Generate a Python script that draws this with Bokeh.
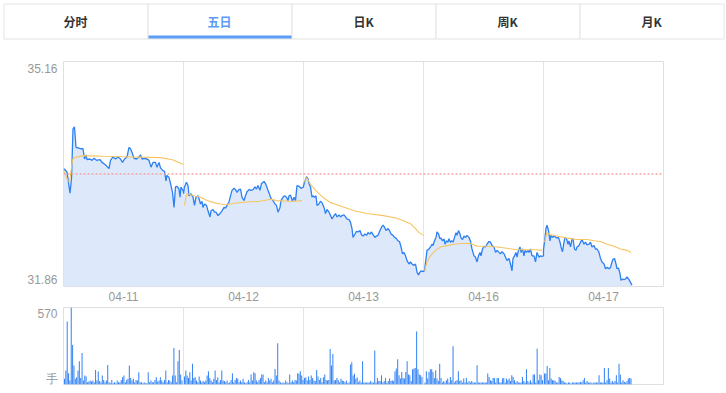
import numpy as np
from bokeh.plotting import figure
from bokeh.layouts import column
from bokeh.models import FixedTicker, Span, Range1d
from bokeh.embed import file_html
from bokeh.resources import INLINE
from bokeh.core.properties import value

# ---------------- data ----------------
tabs = ["分时", "五日", "日K", "周K", "月K"]
active_tab = 1
dates = ["04-11", "04-12", "04-13", "04-16", "04-17"]
price_max = 35.16
price_min = 31.86
prev_close = 33.51
vol_max = 570
vol_unit = "手"
day_len = 240

d1_t = [0, 2, 7, 13, 16, 19, 22, 25, 31, 35, 39, 42, 45, 47, 53, 57, 61, 66, 73, 77, 81, 86, 91, 94, 99, 104, 109, 114, 118, 122,
        127, 131, 134, 137, 141, 146, 151, 154, 157, 162, 167, 171, 175, 179, 184, 187, 191, 194, 199, 202, 205, 207, 211, 215, 218, 221,
        224, 227, 231, 233, 235, 240]
d1_p = [33.58, 33.58, 33.54, 33.23, 33.44, 34.17, 34.20, 33.90, 33.89, 33.88, 33.88, 33.73, 33.79, 33.72, 33.73, 33.71, 33.74, 33.71,
        33.72, 33.68, 33.66, 33.63, 33.59, 33.71, 33.76, 33.73, 33.76, 33.73, 33.68, 33.73, 33.76, 33.90, 33.88, 33.83, 33.74, 33.73,
        33.76, 33.79, 33.73, 33.74, 33.73, 33.71, 33.61, 33.68, 33.68, 33.61, 33.68, 33.60, 33.56, 33.55, 33.41, 33.49, 33.46, 33.34,
        33.24, 33.02, 33.32, 33.33, 33.29, 33.17, 33.32, 33.25]

d2_t = [0, 2, 6, 9, 11, 15, 19, 22, 25, 29, 31, 34, 37, 39, 42, 46, 49, 53, 55, 59, 62, 65, 69, 73, 77, 81, 84, 87, 91, 94, 97, 101,
        104, 107, 111, 114, 117, 121, 124, 127, 131, 135, 139, 143, 146, 149, 153, 156, 161, 164, 169, 173, 175, 179, 183, 186, 189,
        193, 195, 199, 202, 206, 209, 211, 214, 218, 221, 224, 227, 231, 235, 240]
d2_p = [33.22, 33.32, 33.39, 33.34, 33.19, 33.22, 33.17, 33.05, 33.17, 33.19, 33.15, 33.07, 33.11, 33.02, 33.07, 33.05, 32.97, 32.88,
        32.97, 32.99, 32.95, 32.95, 32.90, 32.93, 32.97, 33.02, 33.01, 33.05, 33.10, 33.19, 33.27, 33.30, 33.28, 33.24, 33.28, 33.29,
        33.17, 33.12, 33.19, 33.25, 33.28, 33.27, 33.28, 33.32, 33.29, 33.34, 33.27, 33.37, 33.40, 33.37, 33.27, 33.19, 33.15, 33.12,
        33.07, 33.05, 32.95, 33.02, 33.12, 33.17, 33.19, 33.17, 33.12, 33.19, 33.20, 33.11, 33.17, 33.12, 33.34, 33.33, 33.30, 33.32]

d3_t = [0, 2, 6, 9, 11, 14, 17, 19, 22, 25, 27, 31, 34, 37, 41, 44, 47, 51, 54, 57, 61, 64, 67, 71, 74, 77, 81, 84, 87, 91, 94, 97,
        99, 103, 106, 109, 113, 116, 119, 123, 126, 129, 133, 136, 139, 143, 146, 149, 153, 156, 159, 162, 165, 169, 172, 175, 179,
        182, 185, 189, 192, 195, 198, 201, 204, 207, 211, 214, 217, 221, 224, 227, 230, 233, 235, 240]
d3_p = [33.33, 33.39, 33.47, 33.44, 33.37, 33.32, 33.17, 33.19, 33.17, 33.19, 33.05, 33.07, 33.11, 33.09, 33.02, 32.93, 32.99, 32.95,
        32.90, 32.85, 32.90, 32.93, 32.88, 32.91, 32.88, 32.90, 32.91, 32.88, 32.85, 32.84, 32.80, 32.71, 32.58, 32.63, 32.67, 32.66,
        32.68, 32.62, 32.60, 32.63, 32.61, 32.65, 32.63, 32.66, 32.62, 32.58, 32.60, 32.61, 32.68, 32.73, 32.76, 32.73, 32.68, 32.71,
        32.68, 32.63, 32.61, 32.58, 32.57, 32.53, 32.52, 32.44, 32.34, 32.36, 32.31, 32.24, 32.19, 32.22, 32.19, 32.17, 32.19, 32.07,
        32.03, 32.07, 32.09, 32.08]

d4_t = [0, 2, 5, 7, 11, 14, 17, 19, 22, 25, 27, 30, 33, 35, 38, 41, 43, 46, 49, 51, 54, 57, 59, 62, 65, 67, 70, 73, 75, 78, 81, 84,
        87, 91, 94, 97, 101, 104, 107, 110, 113, 115, 118, 121, 124, 127, 131, 134, 137, 141, 144, 147, 151, 154, 157, 161, 164, 167,
        171, 174, 177, 179, 182, 185, 187, 190, 193, 195, 198, 201, 203, 206, 209, 211, 214, 217, 221, 224, 227, 231, 234, 237, 240]
d4_p = [32.08, 32.09, 32.27, 32.39, 32.41, 32.44, 32.48, 32.46, 32.53, 32.58, 32.66, 32.63, 32.56, 32.57, 32.53, 32.56, 32.48, 32.53,
        32.51, 32.56, 32.51, 32.53, 32.51, 32.58, 32.65, 32.61, 32.68, 32.63, 32.57, 32.55, 32.60, 32.58, 32.61, 32.58, 32.52, 32.41,
        32.31, 32.29, 32.22, 32.31, 32.36, 32.31, 32.41, 32.45, 32.44, 32.48, 32.52, 32.51, 32.46, 32.44, 32.36, 32.39, 32.36, 32.34,
        32.37, 32.34, 32.29, 32.24, 32.27, 32.19, 32.09, 32.27, 32.31, 32.36, 32.29, 32.39, 32.44, 32.36, 32.41, 32.31, 32.39, 32.36,
        32.39, 32.36, 32.41, 32.31, 32.31, 32.22, 32.36, 32.29, 32.31, 32.30, 32.31]

d5_t = [0, 2, 5, 7, 10, 13, 15, 18, 22, 26, 30, 33, 35, 38, 41, 43, 46, 49, 51, 54, 57, 59, 62, 65, 67, 71, 74, 77, 81, 84, 87, 91,
        94, 97, 101, 104, 107, 111, 114, 117, 121, 124, 127, 131, 134, 137, 139, 142, 145, 147, 150, 153, 155, 158, 161, 164, 167,
        171, 174, 177]
d5_p = [32.40, 32.51, 32.71, 32.76, 32.68, 32.53, 32.61, 32.58, 32.60, 32.57, 32.58, 32.51, 32.44, 32.37, 32.51, 32.58, 32.56, 32.48,
        32.53, 32.44, 32.55, 32.56, 32.41, 32.39, 32.44, 32.46, 32.51, 32.55, 32.48, 32.51, 32.47, 32.48, 32.51, 32.44, 32.46, 32.41,
        32.41, 32.36, 32.27, 32.22, 32.19, 32.12, 32.14, 32.12, 32.14, 32.22, 32.26, 32.27, 32.19, 32.12, 32.13, 32.05, 31.95, 31.97,
        31.96, 31.97, 32.00, 31.96, 31.92, 31.88]

# average price lines (per day)
a1_t = [0, 4, 8, 12, 15, 18, 22, 40, 80, 140, 194, 218, 240]
a1_p = [33.56, 33.50, 33.42, 33.39, 33.55, 33.72, 33.75, 33.78, 33.77, 33.76, 33.75, 33.72, 33.65]
a2_t = [2, 5, 7, 21, 34, 47, 61, 74, 84, 101, 127, 154, 174, 187, 207, 224, 237]
a2_p = [33.05, 33.17, 33.22, 33.19, 33.17, 33.12, 33.09, 33.07, 33.06, 33.08, 33.10, 33.11, 33.14, 33.12, 33.11, 33.11, 33.12]
a3_t = [2, 6, 14, 24, 34, 44, 54, 74, 101, 127, 160, 187, 201, 214, 224, 231, 240]
a3_p = [33.39, 33.46, 33.36, 33.27, 33.20, 33.14, 33.09, 33.04, 32.97, 32.93, 32.90, 32.86, 32.82, 32.78, 32.71, 32.65, 32.61]
a4_t = [2, 7, 14, 24, 34, 47, 61, 74, 94, 107, 127, 147, 167, 187, 207, 224, 237]
a4_p = [32.09, 32.22, 32.31, 32.39, 32.44, 32.46, 32.48, 32.49, 32.49, 32.45, 32.45, 32.44, 32.42, 32.40, 32.40, 32.40, 32.39]
a5_t = [2, 7, 14, 27, 47, 67, 87, 101, 114, 127, 141, 154, 167, 175]
a5_p = [32.51, 32.65, 32.62, 32.60, 32.57, 32.55, 32.55, 32.53, 32.52, 32.48, 32.45, 32.41, 32.39, 32.36]

# volume (lots) per day
v1 = [42, 103, 467, 84, 30, 570, 293, 140, 42, 54, 103, 172, 49, 234, 30, 66, 59, 17, 22, 30, 22, 30, 17, 108, 30, 96, 25, 17, 66,
      34, 17, 30, 145, 17, 10, 34, 10, 17, 10, 30, 17, 17, 34, 54, 66, 17, 34, 42, 140, 49, 30, 42, 17, 34, 30, 91, 17, 17, 10, 17,
      10, 10, 91, 17, 30, 17, 17, 34, 54, 22, 30, 54, 30, 17, 34, 103, 17, 34, 30, 17, 66, 271, 66, 17, 172, 256, 74, 30]
v2 = [59, 103, 66, 49, 91, 30, 153, 49, 54, 30, 17, 59, 30, 17, 25, 17, 30, 66, 98, 49, 30, 17, 42, 103, 34, 54, 17, 34, 103, 30,
      25, 17, 30, 10, 17, 34, 84, 17, 34, 49, 42, 17, 30, 17, 42, 17, 10, 17, 34, 17, 74, 30, 91, 84, 30, 17, 34, 49, 74, 74, 17, 30,
      17, 49, 30, 42, 17, 30, 115, 66, 305, 30, 17, 10, 17, 10, 30, 17, 10, 74, 17, 30, 17, 34, 30, 84, 79, 98, 66, 34]
v3 = [49, 54, 30, 59, 34, 66, 49, 30, 25, 108, 59, 34, 49, 17, 54, 74, 34, 30, 34, 263, 140, 226, 30, 34, 49, 34, 17, 42, 30, 25,
      17, 30, 10, 17, 148, 165, 66, 79, 42, 54, 17, 30, 15, 172, 15, 15, 15, 15, 15, 25, 15, 15, 252, 15, 49, 25, 25, 69, 15, 25, 49,
      15, 25, 44, 25, 32, 25, 98, 118, 186, 69, 44, 93, 49, 44, 93, 172, 74, 69, 25, 113, 118, 123, 392, 113, 74, 69, 56]
v4 = [15, 98, 44, 93, 113, 113, 93, 49, 105, 44, 25, 154, 49, 15, 25, 15, 32, 44, 15, 56, 32, 284, 15, 25, 32, 98, 25, 32, 15, 44,
      15, 49, 15, 25, 15, 25, 15, 15, 15, 142, 15, 15, 15, 15, 15, 15, 15, 81, 56, 32, 25, 49, 49, 15, 49, 49, 15, 15, 44, 49, 15, 44,
      32, 44, 25, 69, 56, 32, 15, 25, 15, 15, 15, 56, 25, 15, 113, 25, 15, 32, 15, 74, 74, 15, 265, 32, 74, 69, 32]
v5 = [81, 81, 137, 32, 123, 44, 32, 32, 25, 15, 15, 56, 49, 32, 25, 15, 15, 7, 15, 15, 7, 15, 15, 15, 15, 15, 15, 20, 15, 32, 49, 15,
      25, 15, 15, 15, 7, 15, 15, 15, 15, 69, 15, 15, 15, 123, 15, 32, 123, 44, 15, 25, 15, 25, 69, 15, 154, 74, 15, 32, 20, 15, 25, 44,
      49, 44]
vol_span = [(2, 237), (2, 239), (2, 237), (3, 238), (2, 175)]

# ---------------- styles ----------------
W = 726
FRAME_L, FRAME_R = 63, 63
grid_c = "#e2e5e9"
label_c = "#999999"
FONT = "Liberation Sans"

price_t = [d1_t, d2_t, d3_t, d4_t, d5_t]
price_p = [d1_p, d2_p, d3_p, d4_p, d5_p]
avg_t = [a1_t, a2_t, a3_t, a4_t, a5_t]
avg_p = [a1_p, a2_p, a3_p, a4_p, a5_p]
vols = [v1, v2, v3, v4, v5]

xs = np.concatenate([k * day_len + np.array(t, float) for k, t in enumerate(price_t)])
ys = np.concatenate([np.array(p, float) for p in price_p])
boundaries = [k * day_len for k in range(1, 5)]
centers = [k * day_len + day_len / 2 for k in range(5)]

# ---------------- tabs ----------------
TH = 40
tab_x0, tab_w = 3, 144
tab_fig = figure(width=W, height=TH, x_range=Range1d(0, W), y_range=Range1d(TH, 0),
                 toolbar_location=None, output_backend="svg", min_border=0,
                 x_axis_location=None, y_axis_location=None)
tab_fig.frame_align = False
tab_fig.grid.visible = False
tab_fig.outline_line_color = None
lefts = [tab_x0 + i * tab_w + 0.5 for i in range(len(tabs))]
rights = [tab_x0 + (i + 1) * tab_w + 0.5 for i in range(len(tabs))]
tab_fig.quad(left=lefts, right=rights, bottom=38.5, top=3.5,
             fill_color="white", line_color="#e3e3e3", line_width=1)
tab_fig.quad(left=[tab_x0 + active_tab * tab_w + 1], right=[tab_x0 + (active_tab + 1) * tab_w],
             bottom=38, top=35, fill_color="#5c9cf4", line_color=None)
tab_fig.text(x=[tab_x0 + i * tab_w + tab_w / 2 for i in range(len(tabs))], y=[21] * len(tabs), text=tabs,
             text_align="center", text_baseline="middle",
             text_font=value("Noto Sans CJK SC"), text_font_size="12px", text_font_style="bold",
             text_color=["#5c9cf4" if i == active_tab else "#333333" for i in range(len(tabs))])

# ---------------- price chart ----------------
PH = 266
p = figure(width=W, height=PH, x_range=Range1d(0, 5 * day_len), y_range=Range1d(price_min, price_max),
           toolbar_location=None, output_backend="svg",
           min_border_left=FRAME_L, min_border_right=FRAME_R, min_border_top=21, min_border_bottom=20)
p.outline_line_color = "#dcdfe4"
p.ygrid.visible = False
p.xgrid.ticker = FixedTicker(ticks=boundaries)
p.xgrid.grid_line_color = grid_c

p.varea(x=xs, y1=price_min, y2=ys, fill_color="#dde9fa")
p.line(xs, ys, line_color="#2c80f2", line_width=1.3)
p.multi_line([list(k * day_len + np.array(t, float)) for k, t in enumerate(avg_t)], avg_p,
             line_color="#f6c561", line_width=1.1)
p.add_layout(Span(location=prev_close, dimension="width", line_color="#f5a3a3",
                  line_dash="2 2", line_width=1.5))

frame_h = PH - 41
pad = 7 * (price_max - price_min) / frame_h
p.yaxis.ticker = FixedTicker(ticks=[price_max - pad, price_min + pad])
p.yaxis.major_label_overrides = {price_max - pad: f"{price_max:.2f}", price_min + pad: f"{price_min:.2f}"}
p.xaxis.ticker = FixedTicker(ticks=centers)
p.xaxis.major_label_overrides = {c: d for c, d in zip(centers, dates)}
for ax in (p.xaxis[0], p.yaxis[0]):
    ax.axis_line_color = None
    ax.major_tick_line_color = None
    ax.minor_tick_line_color = None
    ax.major_tick_in = 0
    ax.major_tick_out = 0
    ax.major_label_text_color = label_c
    ax.major_label_text_font = FONT
    ax.major_label_text_font_size = "12px"
p.xaxis.major_label_standoff = 5
p.yaxis.major_label_standoff = 6

# ---------------- volume chart ----------------
VH = 86
v = figure(width=W, height=VH, x_range=p.x_range, y_range=Range1d(0, vol_max),
           toolbar_location=None, output_backend="svg", x_axis_location=None,
           min_border_left=FRAME_L, min_border_right=FRAME_R, min_border_top=1, min_border_bottom=8)
v.outline_line_color = "#dcdfe4"
v.ygrid.visible = False
v.xgrid.ticker = FixedTicker(ticks=boundaries)
v.xgrid.grid_line_color = grid_c
vx = np.concatenate([k * day_len + np.linspace(a, b, len(vv)) for k, ((a, b), vv) in enumerate(zip(vol_span, vols))])
vy = np.concatenate([np.array(vv, float) for vv in vols])
v.vbar(x=vx, top=vy, bottom=0, width=2.1, fill_color="#3a87f4", line_color=None)

vpad = 6 * vol_max / (VH - 9)
v.yaxis.ticker = FixedTicker(ticks=[vol_max - vpad, vpad])
v.yaxis.major_label_overrides = {vol_max - vpad: str(vol_max), vpad: vol_unit}
ax = v.yaxis[0]
ax.axis_line_color = None
ax.major_tick_line_color = None
ax.minor_tick_line_color = None
ax.major_tick_in = 0
ax.major_tick_out = 0
ax.major_label_text_color = label_c
ax.major_label_text_font = FONT
ax.major_label_text_font_size = "12px"
ax.major_label_standoff = 6

layout = column(tab_fig, p, v, spacing=0)
open("out.html", "w").write(file_html(layout, INLINE))
